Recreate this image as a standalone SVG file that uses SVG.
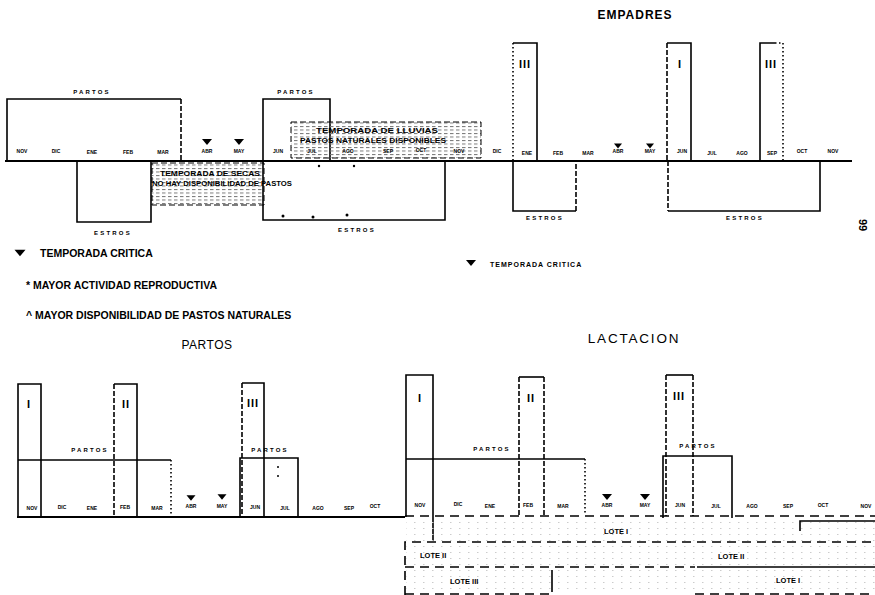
<svg xmlns="http://www.w3.org/2000/svg" width="875" height="595" viewBox="0 0 875 595">
<style>
text{font-family:"Liberation Sans",Arial,sans-serif;fill:#000}
.m{font-size:5px;font-weight:bold;text-anchor:middle}
.s{font-size:6px;font-weight:bold;letter-spacing:2.2px;text-anchor:middle}
.r{font-size:11px;font-weight:bold;text-anchor:middle;letter-spacing:1px}
.lg{font-size:10.5px;font-weight:bold}
.hb{font-size:7.5px;font-weight:bold}
.ln{fill:none;stroke:#000;stroke-width:1.6}
.ax{fill:none;stroke:#000;stroke-width:2}
.da{stroke-dasharray:5 2}
.do{stroke-dasharray:1.5 2.5}
.ld{fill:none;stroke:#000;stroke-width:1.6;stroke-dasharray:9 6}
</style>
<defs>
<pattern id="ht" width="6" height="3.5" patternUnits="userSpaceOnUse"><rect width="3.5" height="1" fill="#777"/></pattern>
<pattern id="ht2" width="9" height="6" patternUnits="userSpaceOnUse"><rect width="1.5" height="1" fill="#ccc"/></pattern>
<path id="tri" d="M-5,-3 H5 L0,3 Z" fill="#000"/>
</defs>
<rect width="875" height="595" fill="#fff"/>

<!-- titles and legend -->
<g id="titles">
<text x="635" y="19" font-size="12" font-weight="bold" letter-spacing="1" text-anchor="middle">EMPADRES</text>
<text x="634" y="343" font-size="13.5" letter-spacing="1.8" text-anchor="middle">LACTACION</text>
<text x="207" y="349" font-size="12" letter-spacing="0.5" text-anchor="middle">PARTOS</text>
<text x="859" y="225" font-size="11" font-weight="bold" text-anchor="middle" transform="rotate(90 859 225)">99</text>
</g>
<g id="legend">
<use href="#tri" transform="translate(20,253) scale(1.1)"/>
<text class="lg" x="40" y="257">TEMPORADA CRITICA</text>
<text class="lg" x="26" y="289">* MAYOR ACTIVIDAD REPRODUCTIVA</text>
<text class="lg" x="26" y="319">^ MAYOR DISPONIBILIDAD DE PASTOS NATURALES</text>
<use href="#tri" transform="translate(471,263)"/>
<text x="490" y="267" font-size="7" font-weight="bold" letter-spacing="1">TEMPORADA CRITICA</text>
</g>

<!-- ===== TOP: EMPADRES ===== -->
<g id="connectors">
<path class="ax" d="M5,161 H852"/>
<path class="ax" d="M17,517 H405"/>
<path class="ld" d="M405,516 H875"/>
</g>

<g id="top-partos-1">
<path class="ln" d="M7,161 V99 H181"/>
<path class="ln da" d="M181,99 V161"/>
<text class="s" x="92" y="94">PARTOS</text>
</g>
<g id="top-estros-1">
<path class="ln" d="M77,161 V222 H151 V161"/>
<text class="s" x="113" y="235">ESTROS</text>
</g>
<g id="secas">
<rect x="152" y="163" width="112" height="42" fill="url(#ht)" stroke="#000" stroke-width="1" stroke-dasharray="6 3"/>
<text class="hb" x="160" y="176" textLength="100" lengthAdjust="spacingAndGlyphs">TEMPORADA DE SECAS</text>
<text class="hb" x="152" y="186" textLength="140" lengthAdjust="spacingAndGlyphs">NO HAY DISPONIBILIDAD DE PASTOS</text>
</g>
<g id="top-partos-2">
<path class="ln" d="M263,161 V99 H330 V161"/>
<text class="s" x="296" y="94">PARTOS</text>
</g>
<g id="top-estros-2">
<path class="ln" d="M263,161 V220 H445 V161"/>
<text class="s" x="357" y="232">ESTROS</text>
<circle cx="283" cy="216" r="1.5"/><circle cx="313" cy="217" r="1.5"/><circle cx="347" cy="215" r="1.5"/>
<circle cx="319" cy="166" r="1.2"/><circle cx="354" cy="166" r="1.2"/>
</g>
<g id="lluvias">
<rect x="291" y="122" width="190" height="36" fill="url(#ht)" stroke="#000" stroke-width="1" stroke-dasharray="6 3"/>
<text class="hb" x="316" y="133" textLength="122" lengthAdjust="spacingAndGlyphs">TEMPORADA DE LLUVIAS</text>
<text class="hb" x="300" y="143" textLength="146" lengthAdjust="spacingAndGlyphs">PASTOS NATURALES DISPONIBLES</text>
</g>
<g id="top-empadre-III">
<path class="ln" d="M513,43 H537 V161"/>
<path class="ln do" d="M513,43 V161"/>
<text class="r" x="525" y="68" font-size="10">III</text>
</g>
<g id="top-estros-3">
<path class="ln" d="M513,161 V211 H576"/>
<path class="ln da" d="M576,211 V161"/>
<text class="s" x="545" y="220" font-size="5">ESTROS</text>
</g>
<g id="top-empadre-I">
<path class="ln" d="M667,43 H691 V161"/>
<path class="ln da" d="M667,43 V161"/>
<text class="r" x="680" y="68" font-size="10">I</text>
</g>
<g id="top-estros-4">
<path class="ln da" d="M668,161 V211"/>
<path class="ln" d="M668,211 H820 V161"/>
<text class="s" x="745" y="220" font-size="5">ESTROS</text>
</g>
<g id="top-empadre-III-b">
<path class="ln" d="M760,161 V43 H775"/>
<path class="ln do" d="M775,43 H783 V161"/>
<text class="r" x="771" y="68" font-size="10">III</text>
</g>
<g id="top-months">
<text class="m" x="22" y="153">NOV</text><text class="m" x="56" y="153">DIC</text><text class="m" x="92" y="154">ENE</text><text class="m" x="128" y="154">FEB</text><text class="m" x="163" y="154">MAR</text>
<use href="#tri" transform="translate(207,142)"/><text class="m" x="207" y="153">ABR</text>
<use href="#tri" transform="translate(239,142)"/><text class="m" x="239" y="153">MAY</text>
<text class="m" x="278" y="153">JUN</text><text class="m" x="312" y="153">JUL</text><text class="m" x="348" y="153">AGO</text><text class="m" x="388" y="153">SEP</text><text class="m" x="421" y="152">OCT</text><text class="m" x="459" y="153">NOV</text>
<text class="m" x="497" y="153">DIC</text><text class="m" x="527" y="155">ENE</text><text class="m" x="558" y="155">FEB</text><text class="m" x="588" y="155">MAR</text>
<use href="#tri" transform="translate(618,146) scale(0.8)"/><text class="m" x="618" y="153">ABR</text>
<use href="#tri" transform="translate(650,146) scale(0.8)"/><text class="m" x="650" y="153">MAY</text>
<text class="m" x="682" y="153">JUN</text><text class="m" x="712" y="155">JUL</text><text class="m" x="742" y="155">AGO</text><text class="m" x="772" y="155">SEP</text><text class="m" x="802" y="153">OCT</text><text class="m" x="833" y="153">NOV</text>
</g>

<!-- ===== BOTTOM: LACTACION ===== -->
<g id="bot-bar-I">
<path class="ln" d="M18,517 V384 H41 V517"/>
<text class="r" x="29" y="408" font-size="12">I</text>
</g>
<g id="bot-bar-II">
<path class="ln" d="M114,384 H137 V517"/>
<path class="ln da" d="M114,384 V517"/>
<text class="r" x="126" y="408" font-size="12">II</text>
</g>
<g id="bot-partos-1">
<path class="ln" d="M18,460 H171"/>
<path class="ln do" d="M171,460 V517"/>
<text class="s" x="90" y="452" font-size="5.5">PARTOS</text>
</g>
<g id="bot-bar-III">
<path class="ln" d="M242,383 H264 V517"/>
<path class="ln da" d="M242,383 V517"/>
<text class="r" x="253" y="407" font-size="11">III</text>
</g>
<g id="bot-partos-2">
<path class="ln" d="M240,517 V458 H298 V517"/>
<text class="s" x="270" y="452" font-size="5.5">PARTOS</text>
<circle cx="278" cy="467" r="1"/><circle cx="278" cy="476" r="1"/>
</g>
<g id="bot-months-1">
<text class="m" x="32" y="510">NOV</text><text class="m" x="62" y="509">DIC</text><text class="m" x="92" y="510">ENE</text><text class="m" x="125" y="509">FEB</text><text class="m" x="157" y="510">MAR</text>
<use href="#tri" transform="translate(191,498) scale(0.9)"/><text class="m" x="191" y="508">ABR</text>
<use href="#tri" transform="translate(222,497) scale(0.9)"/><text class="m" x="222" y="508">MAY</text>
<text class="m" x="255" y="509">JUN</text><text class="m" x="285" y="510">JUL</text><text class="m" x="318" y="510">AGO</text><text class="m" x="349" y="510">SEP</text><text class="m" x="375" y="508">OCT</text>
</g>
<g id="bot-bar-I-b">
<path class="ln" d="M406,517 V375 H433 V541"/>
<text class="r" x="420" y="402" font-size="12">I</text>
</g>
<g id="bot-partos-3">
<path class="ln" d="M406,459 H585"/>
<path class="ln do" d="M585,459 V514"/>
<text class="s" x="492" y="451" font-size="5.5">PARTOS</text>
</g>
<g id="bot-bar-II-b">
<path class="ln" d="M519,377 H544"/>
<path class="ln da" d="M519,377 V516 M544,377 V516"/>
<text class="r" x="531" y="402" font-size="12">II</text>
</g>
<g id="bot-bar-III-b">
<path class="ln" d="M666,375 H693"/>
<path class="ln da" d="M666,375 V516 M693,375 V516"/>
<text class="r" x="679" y="400" font-size="11">III</text>
</g>
<g id="bot-partos-4">
<path class="ln" d="M663,518 V456 H732 V518"/>
<text class="s" x="698" y="448" font-size="6" letter-spacing="3">PARTOS</text>
</g>
<g id="bot-months-2">
<text class="m" x="420" y="507">NOV</text><text class="m" x="458" y="506">DIC</text><text class="m" x="490" y="508">ENE</text><text class="m" x="528" y="507">FEB</text><text class="m" x="563" y="508">MAR</text>
<use href="#tri" transform="translate(607,497)"/><text class="m" x="607" y="507">ABR</text>
<use href="#tri" transform="translate(645,497)"/><text class="m" x="645" y="507">MAY</text>
<text class="m" x="680" y="507">JUN</text><text class="m" x="716" y="508">JUL</text><text class="m" x="752" y="508">AGO</text><text class="m" x="788" y="508">SEP</text><text class="m" x="823" y="507">OCT</text><text class="m" x="866" y="508">NOV</text>
</g>
<g id="lotes">
<rect x="406" y="519" width="469" height="75" fill="url(#ht2)"/>
<path class="ln" d="M800,531 V521 H875"/>
<path class="ld" d="M405,595 V542 H875"/>
<path class="ld" d="M405,567 H695"/>
<path class="ln" d="M697,567 H875"/>
<path class="ld" d="M405,594 H552 M695,594 H875"/>
<path class="ln" d="M552,570 V592"/>
<text class="hb" x="604" y="534">LOTE I</text>
<text class="hb" x="420" y="558">LOTE II</text>
<text class="hb" x="718" y="559">LOTE II</text>
<text class="hb" x="450" y="584">LOTE III</text>
<text class="hb" x="776" y="583">LOTE I</text>
</g>
</svg>
